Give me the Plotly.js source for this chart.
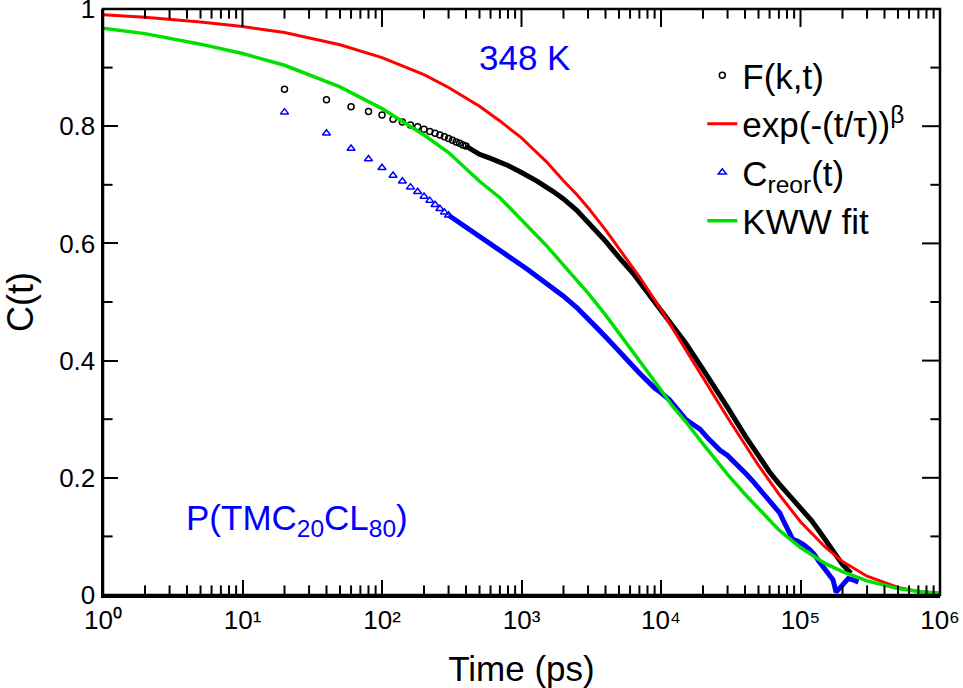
<!DOCTYPE html>
<html>
<head>
<meta charset="utf-8">
<script src="https://cdn.plot.ly/plotly-3.0.1.min.js"></script>
<style>html,body{margin:0;padding:0;background:#fff;}#plot{width:963px;height:688px;}</style>
</head>
<body>
<div id="plot"></div>
<script>
// F(k,t) — individual circles
var fkT = [20,40,60,80,100,120,140,160,180,200,220,240,260,280,300,320,340,360,380,400];
var fkY = [0.863,0.845,0.833,0.825,0.819,0.812,0.807,0.802,0.799,0.795,0.791,0.788,0.785,0.782,0.779,0.776,0.773,0.771,0.768,0.766];
// F(k,t) — dense part where circles merge into a band
var fkDenseT = [400,500,600,800,1000,1300,1700,2000,2500,3000,3500,4000,5000,6300,8000,10000,12000,15000,20000,25000,30000,40000,50000,60000,70000,85000,100000,120000,140000,160000,180000,200000,230000];
var fkDenseY = [0.766,0.752,0.745,0.733,0.721,0.706,0.688,0.676,0.656,0.636,0.618,0.604,0.576,0.549,0.516,0.486,0.462,0.430,0.385,0.350,0.320,0.272,0.236,0.210,0.190,0.168,0.150,0.127,0.105,0.085,0.065,0.052,0.037];

// exp(-(t/tau))^beta fit (red)
var expT = [1,2,5,10,20,50,100,200,300,500,700,1000,1200,1500,2000,2500,3000,4000,5000,7000,10000,12000,15000,20000,30000,40000,50000,70000,100000,150000,200000,300000,500000,700000,1000000];
var expY = [0.990,0.986,0.978,0.970,0.960,0.939,0.917,0.888,0.866,0.834,0.809,0.780,0.762,0.740,0.707,0.683,0.661,0.623,0.591,0.543,0.487,0.457,0.420,0.371,0.303,0.256,0.221,0.172,0.125,0.082,0.057,0.032,0.013,0.006,0.003];

// C_reor(t) — individual triangles
var crT = [20,40,60,80,100,120,140,160,180,200,220,240,260,280,300];
var crY = [0.824,0.788,0.762,0.744,0.729,0.716,0.706,0.696,0.688,0.680,0.673,0.666,0.659,0.653,0.648];
// C_reor(t) — dense part
var crDenseT = [300,400,530,700,920,1100,1300,1600,2000,2500,3000,3600,4500,5100,6000,7000,8000,9000,10000,11500,13000,15000,17000,19000,22000,26500,30000,34000,37000,41000,46000,51000,57000,63000,71000,76000,82000,88000,95000,105000,117000,125000,135000,145000,160000,171000,180000,190000,202000,220000,237000,260000];
var crDenseY = [0.648,0.628,0.608,0.588,0.570,0.556,0.543,0.528,0.510,0.490,0.472,0.452,0.428,0.413,0.396,0.379,0.365,0.353,0.345,0.333,0.318,0.300,0.291,0.283,0.266,0.247,0.238,0.226,0.218,0.206,0.193,0.180,0.168,0.155,0.140,0.125,0.108,0.095,0.092,0.086,0.077,0.070,0.058,0.048,0.035,0.026,0.005,0.012,0.020,0.028,0.026,0.022];

// KWW fit (green)
var kwwT = [1,2,5,10,20,50,100,200,300,500,700,1000,1200,1500,2000,2500,3000,4000,5000,7000,10000,12000,15000,20000,30000,40000,50000,70000,100000,150000,200000,300000,500000,700000,1000000];
var kwwY = [0.967,0.958,0.940,0.924,0.904,0.867,0.830,0.785,0.755,0.706,0.678,0.640,0.621,0.597,0.563,0.537,0.515,0.478,0.447,0.402,0.350,0.323,0.296,0.258,0.206,0.172,0.148,0.111,0.081,0.054,0.040,0.024,0.011,0.006,0.003];

// axis ticks
var xTickVals = [1,10,100,1000,10000,100000,1000000];
var xTickText = ['10\u2070','10\u00B9','10\u00B2','10\u00B3','10\u2074','10\u2075','10\u2076'];
var xMinorVals = [];
[1,10,100,1000,10000,100000].forEach(function(d){ for (var k=2;k<=9;k++) xMinorVals.push(k*d); });
var yTickVals = [0,0.2,0.4,0.6,0.8,1];
var yTickText = ['0','0.2','0.4','0.6','0.8','1'];
var yMinorVals = [0.1,0.3,0.5,0.7,0.9];

var FONT = 'Liberation Sans, Arial, Helvetica, sans-serif';

// plot geometry (pixels), used only to place tick marks inside the frame
var PLOT_W = 963 - 103 - 23, PLOT_H = 688 - 9 - 93;
var X_RANGE = [0, 6], Y_RANGE = [0, 1];
var MAJOR_LEN = 15, MINOR_LEN = 8;

// inside tick marks (minor ones, and the mirrored top/right ones), as line-shaped markers through the axis scales
function xTickTrace(vals, len, bottom, top) {
  var dy = (len / 2) / PLOT_H * (Y_RANGE[1] - Y_RANGE[0]);
  var xs = [], ys = [];
  vals.forEach(function(v){
    if (bottom) { xs.push(v); ys.push(Y_RANGE[0] + dy); }
    if (top) { xs.push(v); ys.push(Y_RANGE[1] - dy); }
  });
  return {x: xs, y: ys, type:'scatter', mode:'markers', showlegend:false,
          marker:{symbol:'line-ns-open', size:len, color:'#000', line:{width:2, color:'#000'}}};
}
function yTickTrace(vals, len, left, right) {
  var f = Math.pow(10, (len / 2) / PLOT_W * (X_RANGE[1] - X_RANGE[0]));
  var lo = Math.pow(10, X_RANGE[0]), hi = Math.pow(10, X_RANGE[1]);
  var xs = [], ys = [];
  vals.forEach(function(v){
    if (left) { xs.push(lo * f); ys.push(v); }
    if (right) { xs.push(hi / f); ys.push(v); }
  });
  return {x: xs, y: ys, type:'scatter', mode:'markers', showlegend:false,
          marker:{symbol:'line-ew-open', size:len, color:'#000', line:{width:2, color:'#000'}}};
}

var traces = [
  {x: fkT, y: fkY, type:'scatter', mode:'markers', name:'F(k,t)',
   marker:{symbol:'circle-open', size:6, color:'#000', line:{width:1.5, color:'#000'}}},
  {x: fkDenseT, y: fkDenseY, type:'scatter', mode:'lines', showlegend:false,
   line:{color:'#000', width:5}},
  {x: expT, y: expY, type:'scatter', mode:'lines', name:'exp(-(t/τ))<sup>β</sup>',
   line:{color:'#ff0000', width:3}},
  {x: crT, y: crY, type:'scatter', mode:'markers', name:'C<sub>reor</sub>(t)',
   marker:{symbol:'triangle-up-open', size:7, color:'#0000ff', line:{width:1.5, color:'#0000ff'}}},
  {x: crDenseT, y: crDenseY, type:'scatter', mode:'lines', showlegend:false,
   line:{color:'#0000ff', width:5}},
  {x: kwwT, y: kwwY, type:'scatter', mode:'lines', name:'KWW fit',
   line:{color:'#00e000', width:3.5}},
  xTickTrace(xTickVals, MAJOR_LEN, false, true),
  xTickTrace(xMinorVals, MINOR_LEN, true, true),
  yTickTrace(yTickVals, MAJOR_LEN, false, true),
  yTickTrace(yMinorVals, MINOR_LEN, true, true)
];

var layout = {
  width:963, height:688,
  margin:{l:103, r:23, t:9, b:93},
  paper_bgcolor:'#fff', plot_bgcolor:'#fff',
  font:{family:FONT, color:'#000'},
  showlegend:true,
  xaxis: {
    type:'log', range:X_RANGE,
    showline:true, linecolor:'#000', linewidth:2.5,
    ticks:'inside', ticklen:MAJOR_LEN, tickwidth:2, tickcolor:'#000',
    showgrid:false, zeroline:false,
    tickmode:'array', tickvals:xTickVals, ticktext:xTickText,
    tickfont:{family:FONT, size:26, color:'#000'},
    title:{text:'Time (ps)', font:{family:FONT, size:35, color:'#000'}}
  },
  yaxis: {
    range:Y_RANGE,
    showline:true, linecolor:'#000', linewidth:2.5,
    ticks:'inside', ticklen:MAJOR_LEN, tickwidth:2, tickcolor:'#000',
    showgrid:false, zeroline:false,
    tickmode:'array', tickvals:yTickVals, ticktext:yTickText,
    ticklabeloverflow:'allow',
    tickfont:{family:FONT, size:26, color:'#000'},
    title:{text:'C(t)', font:{family:FONT, size:36, color:'#000'}}
  },
  shapes:[
    {type:'rect', xref:'paper', yref:'paper', x0:0, x1:1, y0:0, y1:1, layer:'above',
     fillcolor:'rgba(0,0,0,0)', line:{color:'#000', width:2.5}}
  ],
  legend:{x:0.716, y:0.937, xanchor:'left', yanchor:'top', bgcolor:'rgba(0,0,0,0)',
    font:{family:FONT, size:35, color:'#000'}, tracegroupgap:0},
  annotations:[
    {text:'348 K', xref:'paper', yref:'paper', x:0.504, y:0.918, xanchor:'center', yanchor:'middle', showarrow:false,
     font:{family:FONT, size:35, color:'#0000ff'}},
    {text:'P(TMC<sub>20</sub>CL<sub>80</sub>)', xref:'paper', yref:'paper', x:0.232, y:0.128, xanchor:'center', yanchor:'middle', showarrow:false,
     font:{family:FONT, size:35, color:'#0000ff'}}
  ]
};

Plotly.newPlot('plot', traces, layout, {displayModeBar:false, staticPlot:true});
</script>
</body>
</html>
